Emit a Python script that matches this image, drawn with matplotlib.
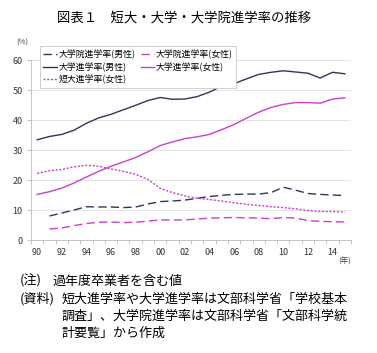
import numpy as np
import matplotlib
matplotlib.use("Agg")
import matplotlib.pyplot as plt

plt.rcParams['font.family'] = ['Noto Sans CJK JP', 'DejaVu Sans']

# years 1990-2015, tick labels every 2 years
years = ['90', '91', '92', '93', '94', '95', '96', '97', '98', '99', '00', '01', '02',
         '03', '04', '05', '06', '07', '08', '09', '10', '11', '12', '13', '14', '15']

# graduate school entry rate (from 1991)
grad_male = [None, 8.0, 9.0, 10.0, 11.1, 11.0, 11.0, 10.8, 11.0, 12.0, 12.8, 13.0, 13.3,
             13.9, 14.5, 14.9, 15.2, 15.3, 15.3, 15.8, 17.6, 16.6, 15.5, 15.2, 15.0, 14.8]
grad_female = [None, 3.7, 4.0, 4.8, 5.5, 5.9, 6.0, 5.8, 5.9, 6.3, 6.7, 6.7, 6.7,
               7.0, 7.3, 7.4, 7.5, 7.4, 7.3, 7.1, 7.5, 7.3, 6.5, 6.2, 6.1, 6.0]
# university entry rate
univ_male = [33.4, 34.5, 35.2, 36.6, 38.9, 40.7, 41.9, 43.4, 44.9, 46.5, 47.5, 46.9, 47.0,
             47.8, 49.3, 51.3, 52.1, 53.7, 55.2, 55.9, 56.4, 56.0, 55.6, 54.0, 55.9, 55.4]
univ_female = [15.2, 16.1, 17.3, 19.0, 21.0, 22.9, 24.6, 26.0, 27.5, 29.4, 31.5, 32.7, 33.8,
               34.4, 35.2, 36.8, 38.5, 40.6, 42.6, 44.2, 45.2, 45.8, 45.8, 45.6, 47.0, 47.4]
# junior college entry rate (female)
jc_female = [22.2, 23.1, 23.5, 24.4, 24.9, 24.6, 23.7, 22.9, 21.9, 20.2, 17.2, 15.8, 14.7,
             13.9, 13.5, 13.0, 12.4, 11.9, 11.5, 11.1, 10.8, 10.4, 9.8, 9.5, 9.5, 9.3]

navy = '#34335f'
magenta = '#cc3fcc'

x = np.arange(len(years))

def arr(v):
    return np.array([np.nan if a is None else a for a in v], dtype=float)

fig = plt.figure(figsize=(3.77, 3.53), dpi=100)
ax = fig.add_axes([31/377, 1 - 240/353, 320/377, 180/353])

ax.plot(x, arr(grad_male), color=navy, lw=1.0, dashes=(6, 3), label='大学院進学率(男性)')
ax.plot(x, arr(univ_male), color=navy, lw=1.0, label='大学進学率(男性)')
ax.plot(x, arr(jc_female), color=magenta, lw=1.0, dashes=(1.5, 1.2), label='短大進学率(女性)')
ax.plot(x, arr(grad_female), color=magenta, lw=1.0, dashes=(6, 3), label='大学院進学率(女性)')
ax.plot(x, arr(univ_female), color=magenta, lw=1.0, label='大学進学率(女性)')

ax.set_xlim(-0.5, len(years) - 0.5)
ax.set_ylim(0, 60)
ax.set_yticks(range(0, 61, 10))
ax.yaxis.grid(True, color='#dedede', lw=0.6)
ax.set_axisbelow(True)

ax.set_xticks(x[::2])
ax.set_xticklabels(years[::2])
ax.set_xticks(np.arange(-0.5, len(years), 1), minor=True)
ax.tick_params(axis='x', which='major', length=0, labelsize=6.5, colors='#333333', pad=6)
ax.tick_params(axis='x', which='minor', length=3, color='#bbbbbb', width=0.6)
ax.tick_params(axis='y', length=3, color='#bbbbbb', width=0.6, labelsize=6.5,
               colors='#333333', pad=3)
for s in ['top', 'right']:
    ax.spines[s].set_visible(False)
for s in ['left', 'bottom']:
    ax.spines[s].set_color('#bbbbbb')
    ax.spines[s].set_linewidth(0.6)

leg = ax.legend(ncol=2, loc='upper left', bbox_to_anchor=(0.015, 1.1), fontsize=6.4,
                handlelength=1.5, handletextpad=0.2, columnspacing=0.6, labelspacing=0.35,
                borderpad=0.35, frameon=True, fancybox=False, framealpha=1)
leg.get_frame().set_edgecolor('#c8c8c8')
leg.get_frame().set_linewidth(0.6)

fig.text(22/377, 1 - 43/353, '(%)', fontsize=5.5, ha='center', va='center', color='#444444')
fig.text(345/377, 1 - 262/353, '(年)', fontsize=5.5, ha='center', va='center', color='#444444')

fig.text(184/377, 1 - 18/353, '図表１　短大・大学・大学院進学率の推移', fontsize=9.6,
         ha='center', va='center')

fs = 9.4
fig.text(20/377, 1 - 281/353, '(注)', fontsize=fs, ha='left', va='center')
fig.text(53/377, 1 - 281/353, '過年度卒業者を含む値', fontsize=fs, ha='left', va='center')
fig.text(20/377, 1 - 299/353, '(資料)', fontsize=fs, ha='left', va='center')
fig.text(62/377, 1 - 299/353, '短大進学率や大学進学率は文部科学省「学校基本', fontsize=fs,
         ha='left', va='center')
fig.text(62/377, 1 - 316/353, '調査」、大学院進学率は文部科学省「文部科学統', fontsize=fs,
         ha='left', va='center')
fig.text(62/377, 1 - 333/353, '計要覧」から作成', fontsize=fs, ha='left', va='center')

fig.savefig('out.png', dpi=100)
